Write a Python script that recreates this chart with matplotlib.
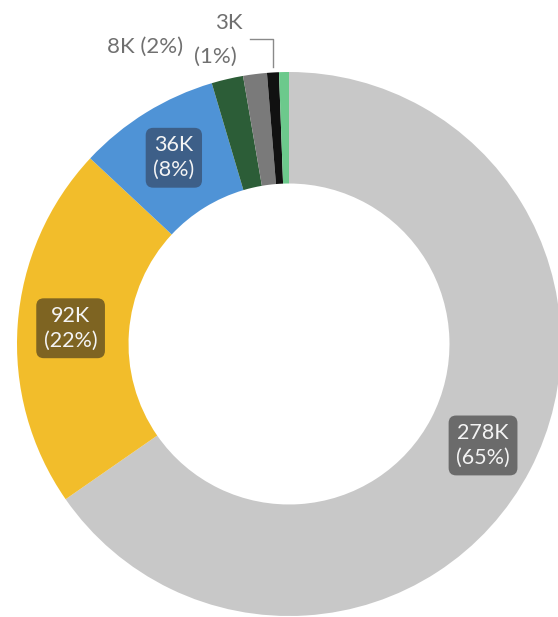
import matplotlib
matplotlib.use("Agg")
import matplotlib.pyplot as plt
import numpy as np

# ---- data ----
categories = ["A", "B", "C", "D", "E", "F", "G"]
values = [278, 92, 36, 8, 6, 3, 2.5]          # thousands
value_labels = ["278K", "92K", "36K", "8K", "6K", "3K", "2K"]
pct_labels = ["65%", "22%", "8%", "2%", "1%", "1%", "1%"]
colors = ["#c8c8c8", "#f2bd2b", "#4f93d6", "#2c5d37", "#7a7a7a", "#111111", "#6cc98c"]
box_colors = ["#6b6b6b", "#7e6422", "#3d5f88"]

W, H = 558, 617
fig = plt.figure(figsize=(W / 100, H / 100), dpi=100)
ax = fig.add_axes([0, 0, 1, 1])
ax.set_xlim(0, W)
ax.set_ylim(0, H)
ax.set_aspect("equal")
ax.axis("off")

cx, cy = 289, H - 344
R = 272
wedges, _ = ax.pie(values, colors=colors, startangle=90, counterclock=False,
                   center=(cx, cy), radius=R,
                   wedgeprops=dict(width=R * 0.41, linewidth=0))
ax.set_xlim(0, W)
ax.set_ylim(0, H)

font = "Lato"
# inside labels for the three largest slices
for i in range(3):
    w = wedges[i]
    ang = np.deg2rad((w.theta1 + w.theta2) / 2)
    r = 0.805 * R
    x, y = cx + r * np.cos(ang), cy + r * np.sin(ang)
    ax.text(x, y, f"{value_labels[i]}\n({pct_labels[i]})", ha="center", va="center",
            fontsize=15.5, color="#f4f4f4", family=font, linespacing=1.3,
            bbox=dict(boxstyle="round,pad=0.35,rounding_size=0.35",
                      fc=box_colors[i], ec="none"))

# outside labels
lbl_color = "#707070"
fs_out = 16
ax.text(145, H - 47, f"{value_labels[3]} ({pct_labels[3]})", ha="center", va="center",
        fontsize=fs_out, color=lbl_color, family=font)
ax.text(229, H - 23, value_labels[5], ha="center", va="center",
        fontsize=fs_out, color=lbl_color, family=font)
ax.text(215, H - 57, f"({pct_labels[5]})", ha="center", va="center",
        fontsize=fs_out, color=lbl_color, family=font)
ax.plot([250, 273, 273], [H - 39, H - 39, H - 67], color="#8a8a8a", lw=1)

fig.savefig("out.png", dpi=100)
